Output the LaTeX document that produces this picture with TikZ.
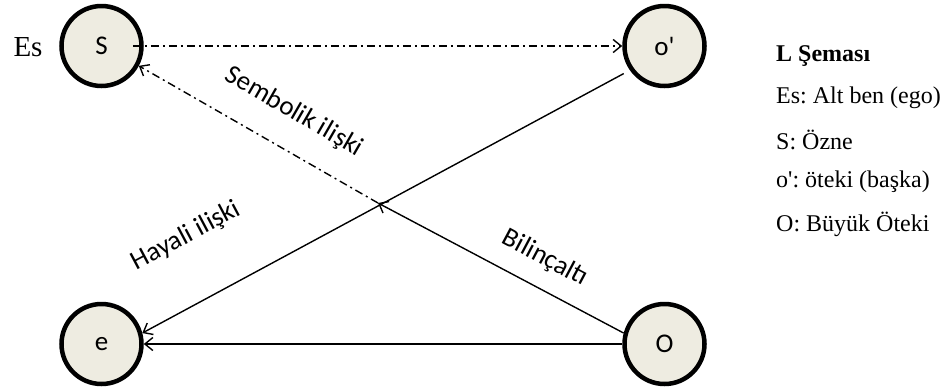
\documentclass[tikz,border=0pt]{standalone}
\usepackage{fontspec}
\setmainfont{Liberation Serif}
\newfontfamily\labelfont{Carlito}
\usetikzlibrary{arrows.meta,calc}
\definecolor{discfill}{HTML}{EEECE1}
\frenchspacing
\begin{document}
\begin{tikzpicture}[x=1pt,y=-1pt,
  disc/.style={circle,draw=black,line width=4.5pt,fill=discfill,minimum size=80pt,
    inner sep=0pt,font=\labelfont\fontsize{27}{30}\selectfont},
  link/.style={line width=1.4pt,-{Straight Barb[length=8pt,width=13pt,line width=1.4pt]}},
  dashdot/.style={dash pattern=on 8pt off 4pt on 2pt off 4pt},
  rel/.style={font=\labelfont\fontsize{27}{30}\selectfont,inner sep=0pt},
  legend/.style={anchor=west,inner sep=0pt,font=\fontsize{24}{28}\selectfont}]
\useasboundingbox (0,0) rectangle (947,389);

% the four positions of the schema
\node[disc] (S)  at (101.5,46)  {S};
\node[disc] (op) at (664.5,46)  {o\textquotesingle};
\node[disc] (e)  at (101.5,344) {e};
\node[disc] (O)  at (664.5,344) {O};

\node[font=\fontsize{29}{30}\selectfont,inner sep=0pt] (es) at (28,47) {Es};

% relations
\coordinate (X) at (378,203);
\draw[link,dashdot] ([xshift=-11pt]S.east) -- (op.west);
\draw[link] (O.165) -- (X);
\draw[link,dashdot] (X) -- (S.-28);
\draw[link,shorten <=7pt] (op.215) -- (e.15);
\draw[link] (O.west) -- (e.east);

\node[rel,rotate=-30] (sem) at (294,112) {Sembolik ilişki};
\node[rel,rotate=28]  (hay) at (186,236) {Hayali ilişki};
\node[rel,rotate=-28] (bil) at (545,258) {Bilinçaltı};

% legend
\node[legend,font=\bfseries\fontsize{24}{28}\selectfont] (lt) at (776,56) {L Şeması};
\node[legend] (l1) at (776,98)  {Es: Alt ben (ego)};
\node[legend] (l2) at (776,140) {S: Özne};
\node[legend] (l3) at (776,182) {o\textquotesingle: öteki (başka)};
\node[legend] (l4) at (776,224) {O: Büyük Öteki};
\end{tikzpicture}
\end{document}
